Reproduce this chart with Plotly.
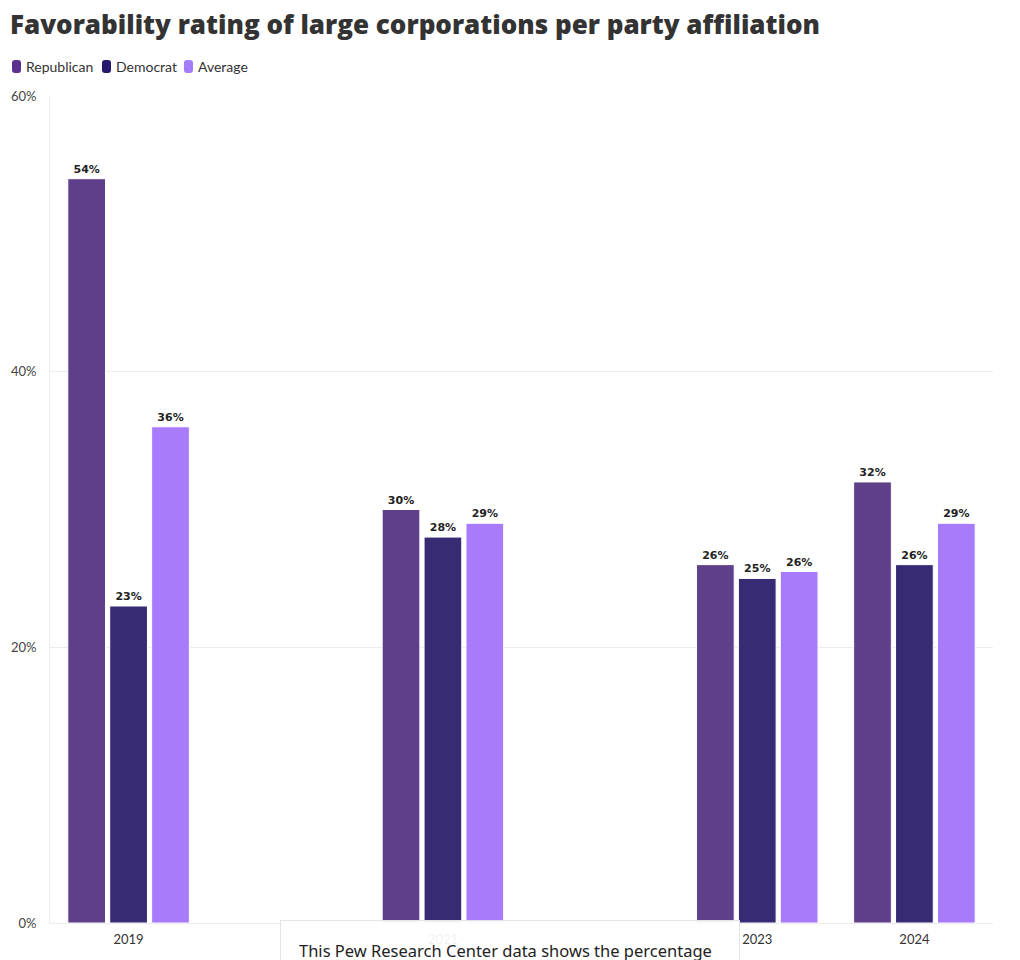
import plotly.graph_objects as go

years = [2019, 2021, 2023, 2024]
republican = [54, 30, 26, 32]
democrat = [23, 28, 25, 26]
average = [36, 29, 25.5, 29]
y_ticks = [0, 20, 40, 60]
y_tick_text = ["0%", "20%", "40%", "60%"]

names = ["Republican", "Democrat", "Average"]
values = [republican, democrat, average]
bar_colors = ["#5F3F8A", "#372C73", "#A77BFB"]
legend_colors = ["#5B2F8D", "#26196B", "#A57CF7"]

# plot-area geometry (pixels)
L, R, T, B = 50, 993, 96, 923
W, H = R - L, B - T

def px(x):
    return (x - L) / W

def py(y):
    return (B - y) / H

fig = go.Figure()
for name, vals, col in zip(names, values, bar_colors):
    fig.add_trace(go.Bar(
        x=years, y=vals, name=name, showlegend=False,
        marker=dict(color=col, line=dict(color="white", width=1)),
        texttemplate="%{y:.0f}%", textposition="outside",
        textfont=dict(family="DejaVu Sans", size=11, color="#222222", weight="bold"),
        constraintext="none", cliponaxis=False,
    ))

# custom legend (rounded swatches + text)
shapes = []
annotations = []
legend_x = [12, 102, 184]
for name, col, x0 in zip(names, legend_colors, legend_x):
    x1 = x0 + 9
    y0, y1 = 60, 73
    r = 3
    path = (f"M {px(x0+r)},{py(y0)} L {px(x1-r)},{py(y0)} Q {px(x1)},{py(y0)} {px(x1)},{py(y0+r)} "
            f"L {px(x1)},{py(y1-r)} Q {px(x1)},{py(y1)} {px(x1-r)},{py(y1)} "
            f"L {px(x0+r)},{py(y1)} Q {px(x0)},{py(y1)} {px(x0)},{py(y1-r)} "
            f"L {px(x0)},{py(y0+r)} Q {px(x0)},{py(y0)} {px(x0+r)},{py(y0)} Z")
    shapes.append(dict(type="path", path=path, xref="paper", yref="paper",
                       fillcolor=col, line=dict(width=0)))
    annotations.append(dict(text=name, xref="paper", yref="paper",
                            x=px(x1 + 3), y=py(66.5), xanchor="left", yanchor="middle",
                            showarrow=False, font=dict(family="Lato", size=14, color="#333333")))

annotations.append(dict(
    text="This Pew Research Center data shows the percentage",
    xref="paper", yref="paper", x=px(280), y=py(920),
    xanchor="left", yanchor="top", showarrow=False, align="left",
    font=dict(family="Noto Sans", size=16.5, color="#222222"),
    bgcolor="rgba(255,255,255,0.93)", bordercolor="#e4e4e4", borderwidth=1,
    borderpad=18, width=422,
))

fig.update_layout(
    width=1020, height=960,
    margin=dict(l=L, r=1020 - R, t=T, b=960 - B, autoexpand=False),
    paper_bgcolor="white", plot_bgcolor="white",
    barmode="group", bargap=0.2, bargroupgap=0.1,
    showlegend=False,
    font=dict(family="Lato", color="#333333", size=13),
    title=dict(text="Favorability rating of large corporations per party affiliation",
               x=10/1020, xanchor="left", y=1-25/960, yanchor="middle",
               xref="container", yref="container",
               font=dict(family="Open Sans", size=26, color="#333333", weight=800)),
    xaxis=dict(range=[2018.5, 2024.5], tickvals=years, ticktext=[str(y) for y in years],
               showgrid=False, showline=True, linecolor="#ececec", zeroline=False,
               tickfont=dict(size=13, color="#333333"), ticklabelstandoff=4),
    yaxis=dict(range=[0, 60], tickvals=y_ticks, ticktext=y_tick_text,
               showgrid=True, gridcolor="#ececec", showline=True, linecolor="#ececec",
               zeroline=False, tickfont=dict(size=13, color="#444444"),
               ticklabelstandoff=10),
    shapes=shapes,
    annotations=annotations,
)

fig.write_html("out.html", config={"displayModeBar": False},
               post_script="document.body.style.margin='0px';")
